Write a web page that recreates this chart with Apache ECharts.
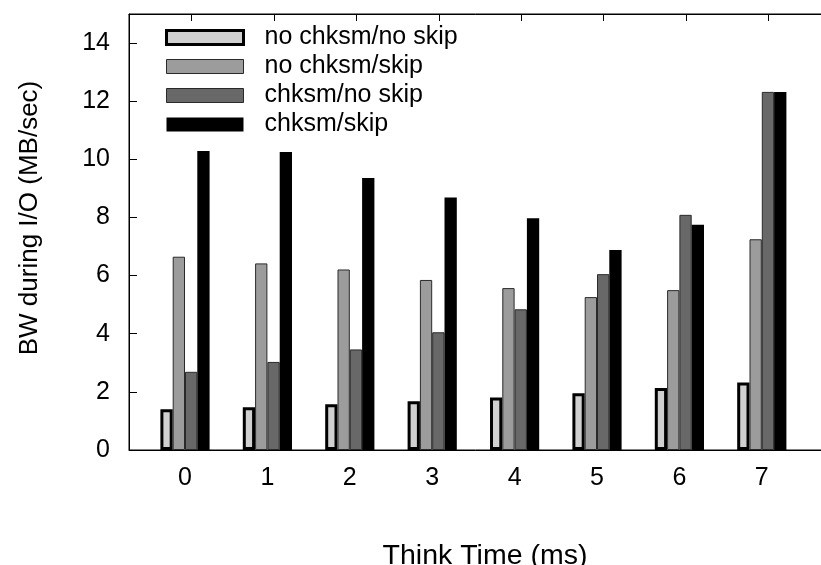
<!DOCTYPE html>
<html>
<head>
<meta charset="utf-8">
<script src="https://cdn.jsdelivr.net/npm/echarts@6/dist/echarts.min.js"></script>
<style>
html,body{margin:0;padding:0;background:#fff;}
#chart{width:821px;height:565px;}
</style>
</head>
<body>
<div id="chart"></div>
<script>
const categories = [0, 1, 2, 3, 4, 5, 6, 7];
const xTickLabels = ['0', '1', '2', '3', '4', '5', '6', '7'];
const seriesNames = ['no chksm/no skip', 'no chksm/skip', 'chksm/no skip', 'chksm/skip'];
const noChksmNoSkip = [1.40, 1.47, 1.57, 1.68, 1.81, 1.95, 2.13, 2.32];
const noChksmSkip = [6.65, 6.42, 6.21, 5.85, 5.57, 5.26, 5.50, 7.25];
const chksmNoSkip = [2.69, 3.03, 3.46, 4.05, 4.84, 6.05, 8.09, 12.32];
const chksmSkip = [10.29, 10.25, 9.36, 8.69, 7.97, 6.88, 7.75, 12.32];
const yMin = 0, yMax = 15, yStep = 2;
const xTitle = 'Think Time (ms)';
const yTitle = 'BW during I/O (MB/sec)';

const FONT = '"Liberation Sans", Arial, Helvetica, sans-serif';
const FS = 25;

const gridLeft = 129, gridTop = 14, gridBottom = 115, gridRight = -20;
const plotW = 821 - gridRight - gridLeft;
const pxPerUnit = 82.4;
const xMin = (gridLeft - 185) / pxPerUnit;
const xMax = xMin + plotW / pxPerUnit;
const topShift = 6.7 / pxPerUnit;

const styles = [
  {color: '#d0d0d0', borderColor: '#000000', borderWidth: 3},
  {color: '#9c9c9c', borderColor: '#2a2a2a', borderWidth: 1},
  {color: '#686868', borderColor: '#2a2a2a', borderWidth: 1},
  {color: '#000000', borderColor: '#000000', borderWidth: 0}
];
const allData = [noChksmNoSkip, noChksmSkip, chksmNoSkip, chksmSkip];

const series = allData.map((vals, i) => ({
  name: seriesNames[i],
  type: 'bar',
  xAxisIndex: 0,
  yAxisIndex: 0,
  barWidth: 12.3,
  barGap: '0%',
  itemStyle: styles[i],
  emphasis: {disabled: true},
  data: categories.map((c, j) => [c, vals[j]])
}));
series.push({
  type: 'scatter', xAxisIndex: 1, yAxisIndex: 0, symbolSize: 0, silent: true,
  data: [], tooltip: {show: false}
});

const chart = echarts.init(document.getElementById('chart'), null, {renderer: 'canvas'});
chart.setOption({
  animation: false,
  backgroundColor: '#ffffff',
  textStyle: {fontFamily: FONT},
  grid: {left: gridLeft, top: gridTop, bottom: gridBottom, right: gridRight, show: true, borderColor: '#000', borderWidth: 1, containLabel: false, outerBoundsMode: 'none'},
  legend: {
    orient: 'vertical',
    left: 165,
    top: 23,
    padding: 0,
    itemGap: 0,
    itemWidth: 77,
    itemHeight: 14,
    icon: 'rect',
    selectedMode: false,
    data: seriesNames.map((n, i) => ({name: n, icon: 'rect', itemStyle: styles[i]})),
    textStyle: {fontFamily: FONT, fontSize: FS, color: '#000', lineHeight: 29, padding: [0, 0, 0, 16]}
  },
  xAxis: [
    {
      type: 'value', position: 'bottom', min: xMin, max: xMax, minInterval: 1, maxInterval: 1,
      axisLine: {show: true, onZero: false, lineStyle: {color: '#000', width: 1}},
      axisTick: {show: false},
      splitLine: {show: false},
      axisLabel: {
        fontFamily: FONT, fontSize: FS, color: '#000', margin: 16,
        showMinLabel: false, showMaxLabel: false,
        formatter: v => { const k = Math.round(v); return (Math.abs(v - k) < 1e-6 && k >= 0 && k < xTickLabels.length) ? xTickLabels[k] : ''; }
      }
    },
    {
      type: 'value', position: 'top', min: xMin - topShift, max: xMax - topShift, minInterval: 1, maxInterval: 1,
      show: true,
      axisLine: {show: true, onZero: false, lineStyle: {color: '#000', width: 1}},
      axisTick: {show: true, inside: true, length: 7, lineStyle: {color: '#000', width: 1}},
      splitLine: {show: false},
      axisLabel: {show: false}
    }
  ],
  yAxis: [{
    type: 'value', min: yMin, max: yMax, interval: yStep,
    axisLine: {show: true, onZero: false, lineStyle: {color: '#000', width: 1}},
    axisTick: {show: true, inside: true, length: 8, lineStyle: {color: '#000', width: 1}},
    splitLine: {show: false},
    axisLabel: {fontFamily: FONT, fontSize: FS, color: '#000', margin: 19, showMaxLabel: false}
  }],
  graphic: [
    {type: 'text', x: 485, y: 556, style: {text: xTitle, font: '28.5px ' + FONT, fill: '#000', textAlign: 'center', textVerticalAlign: 'middle'}},
    {type: 'text', x: 30, y: 218, rotation: Math.PI / 2, style: {text: yTitle, font: '26px ' + FONT, fill: '#000', textAlign: 'center', textVerticalAlign: 'middle'}}
  ],
  series: series
});
</script>
</body>
</html>
